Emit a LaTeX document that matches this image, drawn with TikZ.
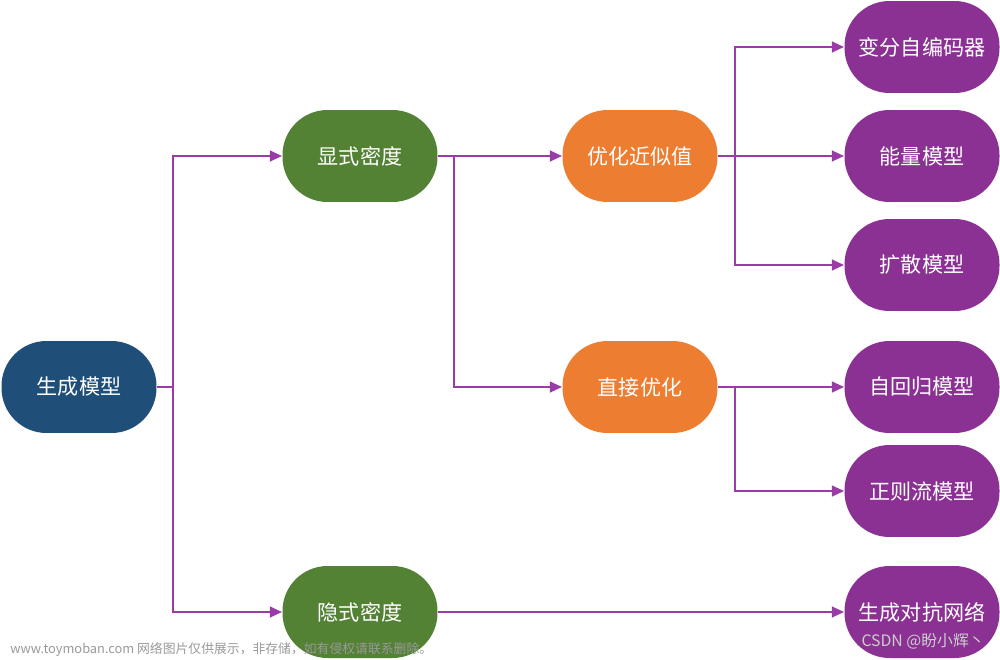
\documentclass[tikz,border=0pt]{standalone}
\usepackage{fontspec}
\newfontfamily\cjkfont{Noto Sans CJK SC}
\usetikzlibrary{arrows.meta}
\definecolor{rootblue}{HTML}{1F4E79}
\definecolor{densgreen}{HTML}{548235}
\definecolor{optorange}{HTML}{ED7D31}
\definecolor{leafpurple}{HTML}{8B3193}
\definecolor{linkpurple}{HTML}{9A3CA6}
\tikzset{
  gbox/.style = {rectangle, rounded corners=0.9cm, minimum width=3.1cm,
    minimum height=1.84cm, inner sep=0pt, text=white,
    font=\cjkfont\fontsize{12}{14}\selectfont},
  gbox_root/.style = {gbox, fill=rootblue},% racine
  gbox_dens/.style = {gbox, fill=densgreen},% densite
  gbox_opt/.style = {gbox, fill=optorange},% optimisation
  gbox_leaf/.style = {gbox, fill=leafpurple},% modele
  link/.style = {draw=linkpurple, line width=1.5pt,
    -{Triangle[length=7pt,width=6pt]}},
  wmark/.style = {inner sep=0pt, font=\cjkfont\fontsize{7.3}{9}\selectfont}
}
\begin{document}
\begin{tikzpicture}[x=0.02cm, y=-0.02cm]
\useasboundingbox (0,0) rectangle (1000,659);
% noeuds
\node [gbox_root] (gen) at (79,387) {生成模型};
\node [gbox_dens] (expl) at (360,156) {显式密度};
\node [gbox_dens] (impl) at (360,612) {隐式密度};
\node [gbox_opt] (approx) at (640,156) {优化近似值};
\node [gbox_opt] (direct) at (640,387) {直接优化};
\node [gbox_leaf] (vae) at (922,47) {变分自编码器};
\node [gbox_leaf] (ebm) at (922,156) {能量模型};
\node [gbox_leaf] (diff) at (922,265) {扩散模型};
\node [gbox_leaf] (ar) at (922,387) {自回归模型};
\node [gbox_leaf] (flow) at (922,491) {正则流模型};
\node [gbox_leaf] (gan) at (922,612) {生成对抗网络};
% liens
\draw [link] (gen.east) -- ++(16,0) |- (expl.west);
\draw [link] (gen.east) -- ++(16,0) |- (impl.west);
\draw [link] (expl.east) -- (approx.west);
\draw [link] (expl.east) -- ++(16,0) |- (direct.west);
\draw [link] (approx.east) -- ++(17,0) |- (vae.west);
\draw [link] (approx.east) -- (ebm.west);
\draw [link] (approx.east) -- ++(17,0) |- (diff.west);
\draw [link] (direct.east) -- (ar.west);
\draw [link] (direct.east) -- ++(17,0) |- (flow.west);
\draw [link] (impl.east) -- (gan.west);
% filigrane
\node [wmark, anchor=west, text=black!40] (wm) at (10,650)
  {www.toymoban.com 网络图片仅供展示，非存储，如有侵权请联系删除。};
\node [wmark, anchor=east, text=black!20, font=\cjkfont\fontsize{9}{11}\selectfont]
  (csdn) at (985,641) {CSDN @盼小辉丶};
\end{tikzpicture}
\end{document}
